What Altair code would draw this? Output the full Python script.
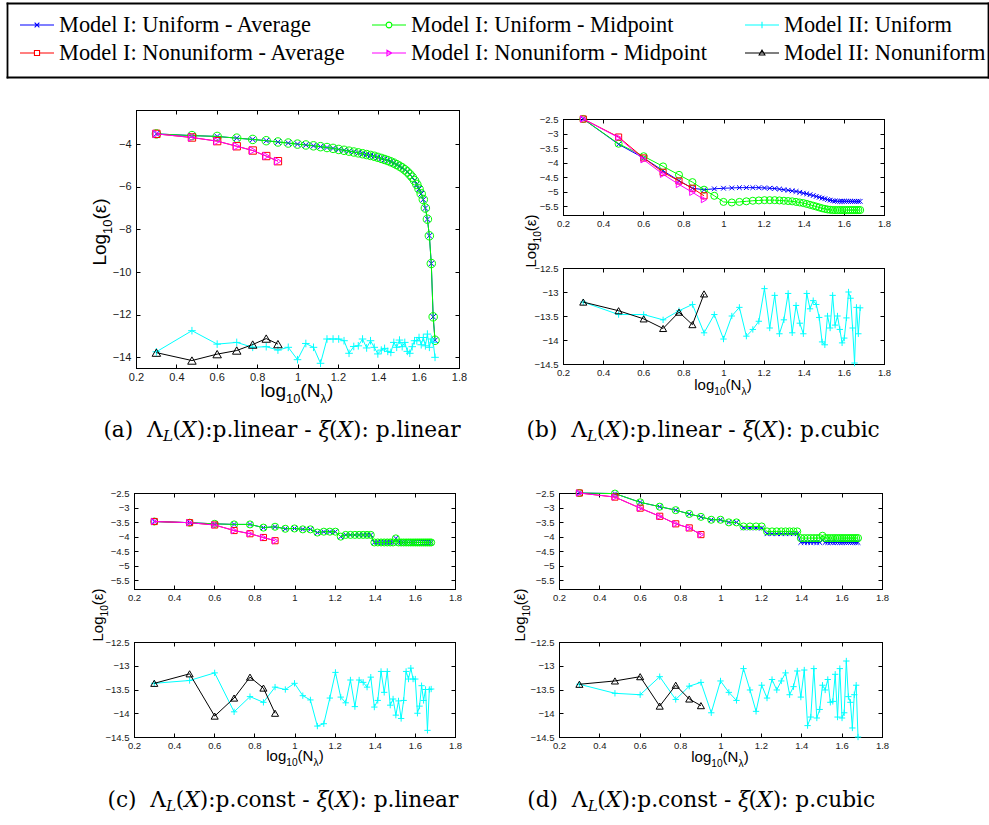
import math
import altair as alt
import pandas as pd

W, H = 989, 825

# ---------------- data ----------------
N_ALL = list(range(2, 49))          # N_lambda = 2 .. 48
N_NONU = [2, 3, 4, 5, 6, 7, 8]      # nonuniform runs

X_TICKS = [0.2, 0.4, 0.6, 0.8, 1.0, 1.2, 1.4, 1.6, 1.8]
Y_TICKS_A = [-4, -6, -8, -10, -12, -14]
Y_TICKS_TOP = [-2.5, -3, -3.5, -4, -4.5, -5, -5.5]
Y_TICKS_BOT = [-12.5, -13, -13.5, -14, -14.5]

# (a) p.linear - p.linear
A_UA = [-3.52, -3.60, -3.64, -3.72, -3.78, -3.84, -3.90, -3.95, -4.00, -4.04, -4.08, -4.12,
        -4.16, -4.20, -4.25, -4.29, -4.33, -4.37, -4.41, -4.45, -4.49, -4.53, -4.57, -4.62,
        -4.67, -4.72, -4.77, -4.83, -4.89, -4.96, -5.03, -5.11, -5.20, -5.30, -5.42, -5.55,
        -5.71, -5.89, -6.10, -6.33, -6.60, -7.00, -7.52, -8.30, -9.60, -12.10, -13.20]
A_UM = [-3.52, -3.60, -3.64, -3.72, -3.78, -3.84, -3.90, -3.95, -4.00, -4.04, -4.08, -4.12,
        -4.16, -4.20, -4.25, -4.29, -4.33, -4.37, -4.41, -4.45, -4.49, -4.53, -4.57, -4.62,
        -4.67, -4.72, -4.77, -4.83, -4.89, -4.96, -5.03, -5.11, -5.20, -5.30, -5.42, -5.55,
        -5.71, -5.89, -6.10, -6.33, -6.60, -7.00, -7.52, -8.30, -9.60, -12.10, -13.20]
A_NA = [-3.52, -3.69, -3.86, -4.10, -4.30, -4.56, -4.80]
A_NM = [-3.52, -3.69, -3.86, -4.10, -4.30, -4.56, -4.80]
A_IU = [-13.74, -12.75, -13.38, -13.30, -13.53, -13.50, -13.66, -13.53, -14.11, -13.35,
        -13.53, -14.28, -13.14, -13.14, -13.14, -13.22, -13.81, -13.49, -13.46, -13.14,
        -13.56, -13.22, -13.53, -13.84, -13.66, -13.58, -13.72, -13.77, -13.30, -13.53,
        -13.19, -13.50, -13.30, -13.72, -13.81, -13.50, -13.22, -13.22, -13.07, -13.41,
        -13.07, -13.46, -12.91, -13.53, -13.14, -13.30, -14.00]
A_IN = [-13.78, -14.15, -13.85, -13.68, -13.40, -13.12, -13.38]

# (b) p.linear - p.cubic
B_UA = [-2.50, -3.37, -3.84, -4.28, -4.62, -4.88, -4.93, -4.90, -4.88, -4.87, -4.86, -4.86,
        -4.86, -4.86, -4.87, -4.88, -4.89, -4.91, -4.93, -4.95, -4.97, -4.99, -5.02, -5.05,
        -5.07, -5.10, -5.13, -5.16, -5.19, -5.22, -5.24, -5.27, -5.29, -5.31, -5.32, -5.33,
        -5.33, -5.33, -5.33, -5.33, -5.33, -5.33, -5.33, -5.33, -5.33, -5.33, -5.33]
B_UM = [-2.50, -3.35, -3.78, -4.13, -4.42, -4.67, -4.93, -5.14, -5.35, -5.37, -5.35, -5.33,
        -5.31, -5.30, -5.29, -5.29, -5.29, -5.30, -5.31, -5.32, -5.33, -5.35, -5.37, -5.39,
        -5.42, -5.45, -5.48, -5.51, -5.54, -5.57, -5.59, -5.61, -5.62, -5.63, -5.63, -5.63,
        -5.63, -5.63, -5.63, -5.63, -5.63, -5.63, -5.63, -5.63, -5.63, -5.63, -5.63]
B_NA = [-2.50, -3.12, -3.84, -4.33, -4.63, -4.88, -5.14]
B_NM = [-2.50, -3.14, -3.90, -4.40, -4.75, -5.02, -5.27]
B_IU = [-13.21, -13.47, -13.47, -13.58, -13.39, -13.26, -13.85, -13.47, -13.98, -13.50,
        -13.32, -13.92, -13.78, -13.61, -12.93, -13.75, -13.07, -13.87, -13.58, -13.03,
        -13.85, -13.28, -13.65, -13.87, -13.03, -13.35, -13.18, -13.26, -13.53, -14.04,
        -14.10, -13.50, -13.75, -13.07, -13.69, -13.50, -13.78, -14.06, -13.96, -13.54,
        -13.00, -13.13, -13.75, -14.48, -13.32, -13.87, -13.33]
B_IN = [-13.21, -13.39, -13.56, -13.76, -13.42, -13.68, -13.04]

# (c) p.const - p.linear
C_UA = [-3.48, -3.52, -3.56, -3.58, -3.58, -3.69, -3.66, -3.73, -3.72, -3.75, -3.75, -3.86,
        -3.83, -3.83, -3.83, -4.00, -3.94, -3.94, -3.94, -3.94, -3.94, -3.94, -3.94, -4.20,
        -4.20, -4.20, -4.20, -4.20, -4.20, -4.20, -4.06, -4.20, -4.20, -4.20, -4.20, -4.20,
        -4.20, -4.20, -4.20, -4.20, -4.20, -4.20, -4.20, -4.20, -4.20, -4.20, -4.20]
C_UM = [-3.48, -3.52, -3.56, -3.58, -3.58, -3.69, -3.66, -3.73, -3.72, -3.75, -3.75, -3.86,
        -3.83, -3.83, -3.83, -4.00, -3.94, -3.94, -3.94, -3.94, -3.94, -3.94, -3.94, -4.20,
        -4.20, -4.20, -4.20, -4.20, -4.20, -4.20, -4.06, -4.20, -4.20, -4.20, -4.20, -4.20,
        -4.20, -4.20, -4.20, -4.20, -4.20, -4.20, -4.20, -4.20, -4.20, -4.20, -4.20]
C_NA = [-3.48, -3.52, -3.60, -3.79, -3.90, -4.03, -4.14]
C_NM = [-3.48, -3.52, -3.60, -3.79, -3.90, -4.03, -4.14]
C_IU = [-13.37, -13.31, -13.15, -13.97, -13.65, -13.77, -13.45, -13.50, -13.37, -13.63,
        -13.72, -14.27, -14.22, -13.68, -13.14, -13.66, -13.78, -13.30, -13.86, -13.30,
        -13.35, -13.45, -13.24, -13.87, -13.73, -13.12, -13.56, -13.12, -13.83, -13.70,
        -14.04, -13.74, -14.11, -13.73, -13.12, -13.28, -13.05, -13.28, -13.28, -14.00,
        -13.85, -13.42, -13.73, -13.50, -14.36, -13.50, -13.49]
C_IN = [-13.37, -13.17, -14.06, -13.68, -13.24, -13.47, -14.00]

# (d) p.const - p.cubic
D_UA = [-2.50, -2.52, -2.82, -2.97, -3.09, -3.22, -3.32, -3.42, -3.42, -3.51, -3.51, -3.70,
        -3.70, -3.70, -3.70, -3.90, -3.90, -3.90, -3.90, -3.90, -3.90, -3.90, -3.90, -4.20,
        -4.20, -4.20, -4.20, -4.20, -4.20, -4.20, -4.12, -4.20, -4.20, -4.20, -4.20, -4.20,
        -4.20, -4.20, -4.20, -4.20, -4.20, -4.20, -4.20, -4.20, -4.20, -4.20, -4.20]
D_UM = [-2.50, -2.52, -2.82, -2.97, -3.09, -3.22, -3.32, -3.42, -3.42, -3.51, -3.51, -3.65,
        -3.65, -3.65, -3.65, -3.82, -3.82, -3.82, -3.82, -3.82, -3.82, -3.82, -3.82, -4.05,
        -4.05, -4.05, -4.05, -4.05, -4.05, -4.05, -3.97, -4.05, -4.05, -4.05, -4.05, -4.05,
        -4.05, -4.05, -4.05, -4.05, -4.05, -4.05, -4.05, -4.05, -4.05, -4.05, -4.05]
D_NA = [-2.50, -2.64, -3.02, -3.30, -3.56, -3.70, -3.93]
D_NM = [-2.50, -2.64, -3.02, -3.30, -3.56, -3.70, -3.93]
D_IU = [-13.39, -13.58, -13.61, -13.23, -13.71, -13.43, -13.35, -13.99, -13.32, -13.56,
        -13.73, -13.06, -13.51, -13.96, -13.41, -13.68, -13.29, -13.51, -13.32, -13.15,
        -13.61, -13.44, -13.11, -13.66, -13.09, -14.26, -14.08, -13.06, -14.10, -13.92,
        -13.41, -13.51, -13.29, -13.77, -13.75, -13.18, -14.08, -13.06, -14.10, -13.99,
        -12.90, -13.65, -13.77, -14.31, -13.61, -13.41, -14.50]
D_IN = [-13.39, -13.32, -13.23, -13.85, -13.41, -13.70, -13.84]

# legend entries: name, column, row
LEGEND_NAMES = ["Model I: Uniform - Average", "Model I: Uniform - Midpoint", "Model II: Uniform",
                "Model I: Nonuniform - Average", "Model I: Nonuniform - Midpoint",
                "Model II: Nonuniform"]
LEGEND_KEYS = ["ua", "um", "iu", "na", "nm", "in"]
LEGEND_COL = [0, 1, 2, 0, 1, 2]
LEGEND_ROW = [0, 0, 0, 1, 1, 1]

# ---------------- styles ----------------
COLORS = {"ua": "#0000ff", "um": "#00ff00", "na": "#ff0000", "nm": "#ff00ff",
          "iu": "#00ffff", "in": "#000000"}
X_PATH = "M-1,-1L1,1M-1,1L1,-1"
PLUS_PATH = "M-1,0H1M0,-1V1"
SHAPES = {"ua": X_PATH, "um": "circle", "na": "square", "nm": "triangle-right",
          "iu": PLUS_PATH, "in": "triangle-up"}
SIZE_F = {"ua": 0.45, "um": 1.0, "na": 0.75, "nm": 0.8, "iu": 0.8, "in": 1.0}
LEG_PATHS = {
    "ua": "M-1,0H1M-0.14,-0.14L0.14,0.14M-0.14,0.14L0.14,-0.14",
    "um": "M-1,0H-0.17M0.17,0H1M0.17,0A0.17,0.17,0,1,1,-0.17,0A0.17,0.17,0,1,1,0.17,0",
    "iu": "M-1,0H1M0,-0.19V0.19",
    "na": "M-1,0H-0.15M0.15,0H1M-0.15,-0.15H0.15V0.15H-0.15Z",
    "nm": "M-1,0H1M-0.12,-0.17L0.17,0L-0.12,0.17Z",
    "in": "M-1,0H1M-0.17,0.12L0,-0.17L0.17,0.12Z",
}

SANS_W = {"L": 0.556, "o": 0.556, "g": 0.556, "l": 0.222, "1": 0.556, "0": 0.556,
          "(": 0.333, ")": 0.333, "N": 0.722, "λ": 0.52, "ε": 0.45}
SERIF_W = {" ": 0.318, "(": 0.390, ")": 0.390, "a": 0.596, "b": 0.640, "c": 0.550,
           "d": 0.640, "Λ": 0.73, "L": 0.637, "X": 0.724, ":": 0.337, "p": 0.640,
           ".": 0.318, "l": 0.320, "i": 0.320, "n": 0.646, "e": 0.592, "r": 0.478,
           "-": 0.338, "ξ": 0.48, "u": 0.646, "o": 0.602, "s": 0.513, "t": 0.401}


def lx(ns):
    return [math.log10(n) for n in ns]


def panel(box, ydom, yticks, series, font_size, msize):
    x0, x1, y0, y1 = box
    xs = alt.Scale(domain=[0.2, 1.8], range=[x0, x1], nice=False, zero=False)
    ys = alt.Scale(domain=ydom, range=[y1, y0], nice=False, zero=False)
    lab = dict(labelFont="Liberation Sans", labelFontSize=font_size, labelColor="#1a1a1a",
               grid=False, title=None, labelOverlap=False)
    xa = alt.Axis(orient="bottom", offset=y1 - H, values=X_TICKS, format="~g", ticks=False,
                  tickSize=0, domain=False, labelPadding=3, labelFlush=False, **lab)
    ya = alt.Axis(orient="left", offset=-x0, values=yticks, format="~g", ticks=False,
                  tickSize=0, domain=False, labelPadding=5, **lab)
    X = alt.X("x:Q", scale=xs, axis=xa)
    Y = alt.Y("y:Q", scale=ys, axis=ya)
    layers = []
    for key, ns, vals in series:
        df = pd.DataFrame({"x": lx(ns), "y": vals})
        layers.append(alt.Chart(df).mark_line(color=COLORS[key], strokeWidth=1).encode(x=X, y=Y))
        layers.append(alt.Chart(df).mark_point(shape=SHAPES[key], color=COLORS[key], filled=False,
                                               size=msize * SIZE_F[key], strokeWidth=1,
                                               opacity=1).encode(x=X, y=Y))
    fr = pd.DataFrame({"x": [0.2], "y": [ydom[0]]})
    fk = dict(grid=False, title=None, labels=False, ticks=True, tickSize=4, tickColor="black",
              tickWidth=1, domain=True, domainColor="black", domainWidth=1, domainCap="square")
    fa = alt.Chart(fr).mark_point(opacity=0).encode(
        x=alt.X("x:Q", scale=xs, axis=alt.Axis(orient="top", offset=-y1, values=X_TICKS, **fk)),
        y=alt.Y("y:Q", scale=ys, axis=alt.Axis(orient="right", offset=x0 - W, values=yticks, **fk)))
    fb = alt.Chart(fr).mark_point(opacity=0).encode(
        x=alt.X("x:Q", scale=xs, axis=alt.Axis(orient="bottom", offset=y0 - H, values=X_TICKS, **fk)),
        y=alt.Y("y:Q", scale=ys, axis=alt.Axis(orient="left", offset=-x1, values=yticks, **fk)))
    return [alt.layer(*layers), fa, fb]


ONE = pd.DataFrame({"k": [0]})


def rich(pieces, ax, ay, angle, font, table):
    """pieces: (text, size, dy, style); placed one after another, centred on (ax, ay)."""
    def w(t, s):
        return sum(table.get(c, 0.55) for c in t) * s
    total = sum(w(t, s) for t, s, _, _ in pieces)
    cur = -total / 2
    out = []
    for t, s, dy, style in pieces:
        lead = len(t) - len(t.lstrip())
        txt = t.strip()
        dx = cur + w(t[:lead], s)
        out.append(alt.Chart(ONE).mark_text(text=txt, font=font, fontSize=s, fontStyle=style,
                                            align="left", baseline="alphabetic", angle=angle,
                                            dx=dx, dy=dy, color="black")
                   .encode(x=alt.value(ax), y=alt.value(ay)))
        cur += w(t, s)
    return out


def xtitle(cx, base, f):
    s = round(f * 0.68, 1)
    return rich([("log", f, 0, "normal"), ("10", s, f * 0.3, "normal"), ("(N", f, 0, "normal"),
                 ("λ", s, f * 0.3, "normal"), (")", f, 0, "normal")],
                cx, base, 0, "Liberation Sans", SANS_W)


def ytitle(bx, cy, f):
    s = round(f * 0.68, 1)
    return rich([("Log", f, 0, "normal"), ("10", s, f * 0.3, "normal"), ("(ε)", f, 0, "normal")],
                bx, cy, 270, "Liberation Sans", SANS_W)


def caption(letter, k1, k2, cx, base):
    f = 21.7
    s = 15.2
    return rich([(f"({letter})", f, 0, "normal"), ("  Λ", f, 0, "normal"),
                 ("L", s, 4, "italic"), ("(", f, 0, "normal"), ("X", f, 0, "italic"),
                 (f"):{k1} - ", f, 0, "normal"), ("ξ", f, 0, "italic"), ("(", f, 0, "normal"),
                 ("X", f, 0, "italic"), (f"): {k2}", f, 0, "normal")],
                cx, base, 0, "DejaVu Serif", SERIF_W)


def full(ua, um, na, nm):
    return [("ua", N_ALL, ua), ("um", N_ALL, um), ("na", N_NONU, na), ("nm", N_NONU, nm)]


def model2(iu, inn):
    return [("iu", N_ALL, iu), ("in", N_NONU, inn)]


BOX_A = (136, 459, 110, 368)
BOX_BT = (563, 884, 119, 215)
BOX_BB = (563, 884, 268, 364)
BOX_CT = (134, 455, 493, 589)
BOX_CB = (134, 455, 642, 737)
BOX_DT = (559, 882, 493, 589)
BOX_DB = (559, 882, 642, 737)

layers = []
layers += panel(BOX_A, [-14.5, -2.4], Y_TICKS_A,
                full(A_UA, A_UM, A_NA, A_NM) + model2(A_IU, A_IN), 11, 72)
layers += panel(BOX_BT, [-5.8, -2.5], Y_TICKS_TOP, full(B_UA, B_UM, B_NA, B_NM), 9.5, 50)
layers += panel(BOX_BB, [-14.5, -12.5], Y_TICKS_BOT, model2(B_IU, B_IN), 9.5, 50)
layers += panel(BOX_CT, [-5.8, -2.5], Y_TICKS_TOP, full(C_UA, C_UM, C_NA, C_NM), 9.5, 50)
layers += panel(BOX_CB, [-14.5, -12.5], Y_TICKS_BOT, model2(C_IU, C_IN), 9.5, 50)
layers += panel(BOX_DT, [-5.8, -2.5], Y_TICKS_TOP, full(D_UA, D_UM, D_NA, D_NM), 9.5, 50)
layers += panel(BOX_DB, [-14.5, -12.5], Y_TICKS_BOT, model2(D_IU, D_IN), 9.5, 50)

# axis titles
layers += xtitle(297, 397, 19) + ytitle(106, 232, 19)
layers += xtitle(723, 390, 15) + ytitle(536, 241, 15)
layers += xtitle(295, 761, 15) + ytitle(103, 615, 15)
layers += xtitle(720, 762, 15) + ytitle(525, 615, 15)

# captions
layers += caption("a", "p.linear", "p.linear", 282, 437)
layers += caption("b", "p.linear", "p.cubic", 703, 437)
layers += caption("c", "p.const", "p.linear", 283, 807)
layers += caption("d", "p.const", "p.cubic", 701, 807)

# ---------------- legend (own layer, own scales) ----------------
leg_df = pd.DataFrame({"series": LEGEND_NAMES, "col": LEGEND_COL, "row": LEGEND_ROW})
LX = alt.X("col:Q", scale=alt.Scale(domain=[0, 1, 2], range=[37, 389, 762], nice=False, zero=False),
           axis=None)
LY = alt.Y("row:Q", scale=alt.Scale(domain=[0, 1], range=[25, 53], nice=False, zero=False),
           axis=None)
leg_symbols = alt.Chart(leg_df).mark_point(filled=False, size=1156, strokeWidth=1.1, opacity=1).encode(
    x=LX, y=LY,
    color=alt.Color("series:N", scale=alt.Scale(domain=LEGEND_NAMES,
                                                range=[COLORS[k] for k in LEGEND_KEYS]), legend=None),
    shape=alt.Shape("series:N", scale=alt.Scale(domain=LEGEND_NAMES,
                                                range=[LEG_PATHS[k] for k in LEGEND_KEYS]), legend=None),
)
leg_labels = alt.Chart(leg_df).mark_text(align="left", baseline="alphabetic", dx=22, dy=7,
                                         font="Liberation Serif", fontSize=22.4, color="black").encode(
    x=LX, y=LY, text="series:N")
legend = alt.layer(leg_symbols, leg_labels)

# legend frame, drawn with axis domain lines
bf = pd.DataFrame({"x": [0], "y": [0]})
bxs = alt.Scale(domain=[0, 1], range=[7, 988], nice=False, zero=False)
bys = alt.Scale(domain=[0, 1], range=[77, 3], nice=False, zero=False)
bk = dict(labels=False, ticks=False, grid=False, title=None, domain=True, domainColor="black",
          domainWidth=1.8, domainCap="square")
frame1 = alt.Chart(bf).mark_point(opacity=0).encode(
    x=alt.X("x:Q", scale=bxs, axis=alt.Axis(orient="bottom", offset=77 - H, **bk)),
    y=alt.Y("y:Q", scale=bys, axis=alt.Axis(orient="left", offset=-7, **bk)))
frame2 = alt.Chart(bf).mark_point(opacity=0).encode(
    x=alt.X("x:Q", scale=bxs, axis=alt.Axis(orient="top", offset=-3, **bk)),
    y=alt.Y("y:Q", scale=bys, axis=alt.Axis(orient="right", offset=988 - W, **bk)))
layers += [legend, frame1, frame2]

chart = (alt.layer(*layers)
         .resolve_scale(x="independent", y="independent")
         .resolve_axis(x="independent", y="independent")
         .properties(width=W, height=H, padding=0, background="white")
         .configure_view(strokeWidth=0))

chart.save("out.html", embed_options={"renderer": "svg", "actions": False})
